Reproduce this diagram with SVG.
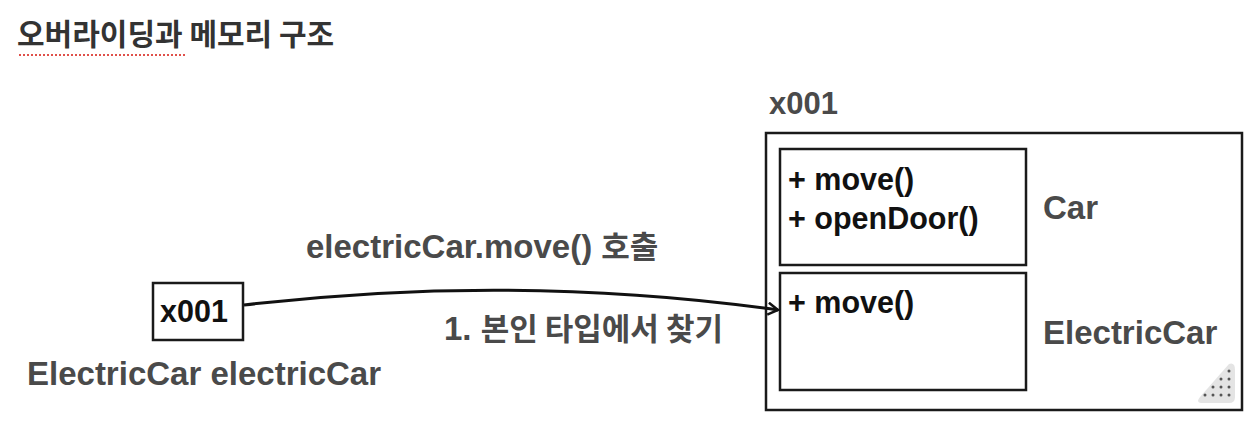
<svg xmlns="http://www.w3.org/2000/svg" width="1260" height="422" viewBox="0 0 1260 422">
<defs>
<style>
.box{fill:#fff;stroke:#1a1a1a;stroke-width:2.5}
.lbl{font-family:"Liberation Sans","Noto Sans CJK KR",sans-serif;font-weight:bold;fill:#4a4a4a;font-size:33px}
.ko{font-family:"Noto Sans CJK KR",sans-serif;font-size:31px}
.mem{font-family:"Liberation Sans",sans-serif;font-weight:bold;fill:#111;font-size:30.5px}
.title{font-family:"Noto Sans CJK KR",sans-serif;font-weight:bold;fill:#333;font-size:30px}
</style>
<marker id="arr" markerWidth="14" markerHeight="14" refX="12" refY="7" orient="auto" markerUnits="userSpaceOnUse">
<path d="M2,1 L12,7 L2,13" fill="none" stroke="#111" stroke-width="2.5"/>
</marker>
</defs>
<rect width="1260" height="422" fill="#fff"/>
<g id="title">
<text class="title" x="17" y="45">오버라이딩과 메모리 구조</text>
<line x1="19" y1="55" x2="187" y2="55" stroke="#e0504a" stroke-width="2" stroke-dasharray="2,2"/>
</g>
<g id="var">
<rect class="box" x="153" y="283" width="90" height="57"/>
<text class="mem" x="160" y="322">x001</text>
<text class="lbl" x="27" y="385">ElectricCar electricCar</text>
</g>
<g id="heap">
<text class="lbl" x="769" y="114" style="font-size:31px">x001</text>
<rect class="box" x="766" y="133" width="476" height="277"/>
<g id="car">
<rect class="box" x="780" y="149" width="246" height="116"/>
<text class="mem" x="788" y="190">+ move()</text>
<text class="mem" x="788" y="229">+ openDoor()</text>
<text class="lbl" x="1043" y="219">Car</text>
</g>
<g id="electriccar">
<rect class="box" x="780" y="273" width="246" height="117"/>
<text class="mem" x="788" y="313">+ move()</text>
<text class="lbl" x="1043" y="344">ElectricCar</text>
</g>
<g id="grip">
<path d="M1229,364 Q1235,362 1235,370 L1235,397 Q1235,403 1229,403 L1203,403 Q1195,403 1200,397 Z" fill="#e4e4e4"/>
<g fill="#555">
<circle cx="1229" cy="371" r="1.5"/>
<circle cx="1221" cy="379" r="1.5"/><circle cx="1229" cy="379" r="1.5"/>
<circle cx="1213" cy="387" r="1.5"/><circle cx="1221" cy="387" r="1.5"/><circle cx="1229" cy="387" r="1.5"/>
<circle cx="1205" cy="395" r="1.5"/><circle cx="1213" cy="395" r="1.5"/><circle cx="1221" cy="395" r="1.5"/><circle cx="1229" cy="395" r="1.5"/>
</g>
</g>
</g>
<g id="connectors">
<path d="M244,305 Q515,273 778,310" fill="none" stroke="#111" stroke-width="3" marker-end="url(#arr)"/>
<text class="lbl" x="306" y="258">electricCar.move() <tspan class="ko">호출</tspan></text>
<text class="lbl" x="444" y="340">1. <tspan class="ko">본인 타입에서 찾기</tspan></text>
</g>
</svg>
